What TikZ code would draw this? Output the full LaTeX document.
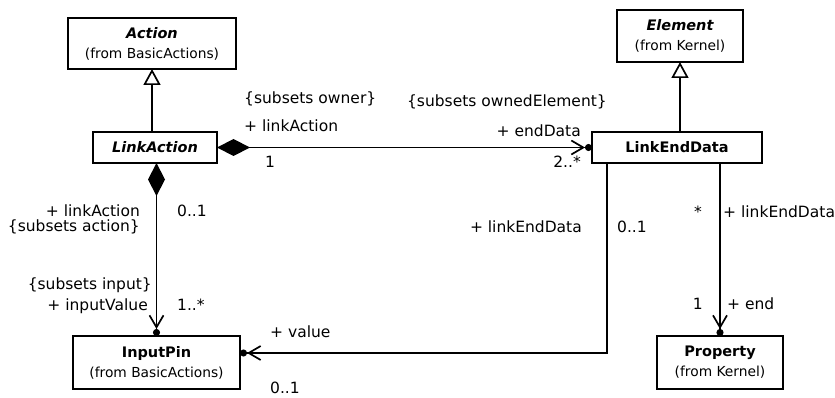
\documentclass[tikz,border=0pt]{standalone}
\usepackage{fontspec}
\setmainfont{DejaVu Sans}
\usetikzlibrary{arrows.meta}

\tikzset{
  classbox/.style={draw, line width=1.4pt, rectangle, align=center, inner sep=0pt, outer sep=0pt, font=\fontsize{14}{20}\selectfont},
  lbl/.style={inner sep=0pt, font=\fontsize{15.5}{18}\selectfont},
  gen/.style={line width=1.7pt, -{Triangle[open, length=16pt, width=17pt, fill=white]}},
  comp/.style={line width=1.7pt, {Diamond[length=33pt, width=17pt]}-{Straight Barb[length=12pt, width=14pt] Circle[length=7pt]}},
  assoc/.style={line width=1.7pt, -{Straight Barb[length=12pt, width=14pt] Circle[length=7pt]}}
}
\newcommand{\clsname}[1]{{\fontsize{14.5}{20}\selectfont\bfseries #1}}
\newcommand{\clsfrom}[1]{{\fontsize{13.8}{20}\selectfont (from #1)}}

\begin{document}
\begin{tikzpicture}[x=1pt, y=-1pt]
        \useasboundingbox (0,0) rectangle (835,398);
        % Classes
        \node[classbox, minimum width=168pt, minimum height=51pt] (action) at (152,43.5) {\clsname{\itshape Action}\\\clsfrom{BasicActions}};
        \node[classbox, minimum width=124pt, minimum height=31pt] (linkaction) at (155,147.5) {\clsname{\itshape LinkAction}};
        \node[classbox, minimum width=126pt, minimum height=52pt] (element) at (680,36) {\clsname{\itshape Element}\\\clsfrom{Kernel}};
        \node[classbox, minimum width=170pt, minimum height=31pt] (linkenddata) at (677,147.5) {\clsname{LinkEndData}};
        \node[classbox, minimum width=167pt, minimum height=53pt] (inputpin) at (156.5,362.5) {\clsname{InputPin}\\\clsfrom{BasicActions}};
        \node[classbox, minimum width=126pt, minimum height=53pt] (property) at (720,362.5) {\clsname{Property}\\\clsfrom{Kernel}};
        % Generalizations
        \draw[gen] (action.south |- linkaction.north) -- (action.south);
        \draw[gen] (element.south |- linkenddata.north) -- (element.south);
        % Associations
        \draw[comp] (linkaction.east) -- (linkenddata.west);
        \draw[comp] (linkaction.south -| inputpin.north) -- (inputpin.north);
        \draw[assoc] ([xshift=-70pt]linkenddata.south) |- ([yshift=9.5pt]inputpin.east);
        \draw[assoc] (property.north |- linkenddata.south) -- (property.north);
        % Role names and multiplicities
        \node[lbl, anchor=base west] (owner) at (244,104) {\{subsets owner\}};
        \node[lbl, anchor=base west] (rlinkaction) at (244,132) {+ linkAction};
        \node[lbl, anchor=base west] (mone) at (265,168) {1};
        \node[lbl, anchor=base east] (ownedel) at (607,107) {\{subsets ownedElement\}};
        \node[lbl, anchor=base east] (enddata) at (581,137) {+ endData};
        \node[lbl, anchor=base east] (mtwo) at (581,168) {2..*};
        \node[lbl, anchor=base east] (rlinkaction2) at (140,217) {+ linkAction};
        \node[lbl, anchor=base east] (action2) at (140,232) {\{subsets action\}};
        \node[lbl, anchor=base west] (mzero) at (177,217) {0..1};
        \node[lbl, anchor=base east] (input) at (152,289) {\{subsets input\}};
        \node[lbl, anchor=base east] (inputvalue) at (148,310) {+ inputValue};
        \node[lbl, anchor=base west] (mmany) at (177,310) {1..*};
        \node[lbl, anchor=base west] (value) at (270,337) {+ value};
        \node[lbl, anchor=base west] (mzero2) at (270,393) {0..1};
        \node[lbl, anchor=base east] (rled) at (582,233) {+ linkEndData};
        \node[lbl, anchor=base west] (mzero3) at (617,233) {0..1};
        \node[lbl, anchor=base east] (mstar) at (702,218) {*};
        \node[lbl, anchor=base west] (rled2) at (723,218) {+ linkEndData};
        \node[lbl, anchor=base east] (mone2) at (703,309) {1};
        \node[lbl, anchor=base west] (rend) at (727,309) {+ end};
      \end{tikzpicture}
\end{document}
